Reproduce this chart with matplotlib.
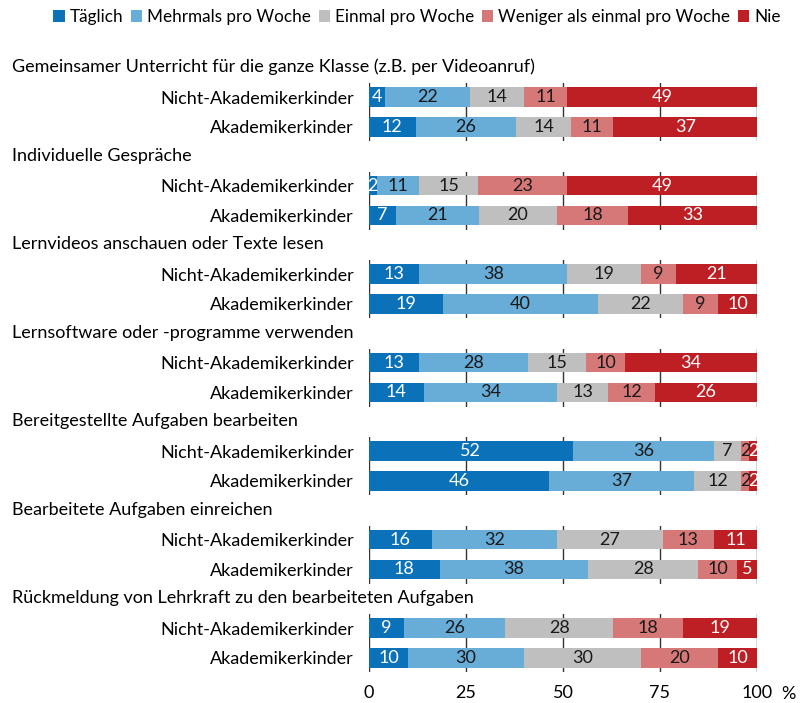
import matplotlib

matplotlib.use("Agg")
import matplotlib.pyplot as plt
import numpy as np

plt.rcParams["font.family"] = ["Lato", "DejaVu Sans"]
plt.rcParams["font.size"] = 13

categories = ["Täglich", "Mehrmals pro Woche", "Einmal pro Woche",
              "Weniger als einmal pro Woche", "Nie"]
colors = ["#0b72b9", "#68acd8", "#bfbfbf", "#d77878", "#be1f24"]
text_colors = ["white", "#1a1a1a", "#1a1a1a", "#1a1a1a", "white"]
rows = ["Nicht-Akademikerkinder", "Akademikerkinder"]

groups = [
    "Gemeinsamer Unterricht für die ganze Klasse (z.B. per Videoanruf)",
    "Individuelle Gespräche",
    "Lernvideos anschauen oder Texte lesen",
    "Lernsoftware oder -programme verwenden",
    "Bereitgestellte Aufgaben bearbeiten",
    "Bearbeitete Aufgaben einreichen",
    "Rückmeldung von Lehrkraft zu den bearbeiteten Aufgaben",
]

# values per group: [Nicht-Akademikerkinder, Akademikerkinder]
unterricht = [[4, 22, 14, 11, 49], [12, 26, 14, 11, 37]]
gespraeche = [[2, 11, 15, 23, 49], [7, 21, 20, 18, 33]]
lernvideos = [[13, 38, 19, 9, 21], [19, 40, 22, 9, 10]]
lernsoftware = [[13, 28, 15, 10, 34], [14, 34, 13, 12, 26]]
bearbeiten = [[52, 36, 7, 2, 2], [46, 37, 12, 2, 2]]
einreichen = [[16, 32, 27, 13, 11], [18, 38, 28, 10, 5]]
rueckmeldung = [[9, 26, 28, 18, 19], [10, 30, 30, 20, 10]]
data = [unterricht, gespraeche, lernvideos, lernsoftware, bearbeiten,
        einreichen, rueckmeldung]

W, H = 809, 703
fig = plt.figure(figsize=(W / 100, H / 100), dpi=100)

x0, x1 = 369, 757
first_top, step, ax_h = 83, 88.5, 58

axes = []
for gi, (title, vals) in enumerate(zip(groups, data)):
    top = first_top + gi * step
    ax = fig.add_axes([x0 / W, 1 - (top + ax_h) / H, (x1 - x0) / W, ax_h / H])
    axes.append(ax)
    vals = np.array(vals, dtype=float)
    widths = vals / vals.sum(axis=1, keepdims=True) * 100
    left = np.zeros(len(rows))
    for ci in range(len(categories)):
        ax.barh(range(len(rows)), widths[:, ci], left=left, height=0.66,
                color=colors[ci], zorder=2, label=categories[ci] if gi == 0 else None)
        for ri in range(len(rows)):
            ax.text(left[ri] + widths[ri, ci] / 2, ri, f"{vals[ri, ci]:.0f}",
                    ha="center", va="center", color=text_colors[ci],
                    fontsize=13, zorder=3)
        left += widths[:, ci]
    ax.set_xlim(0, 100)
    ax.set_ylim(1.47, -0.47)
    ax.set_xticks([0, 25, 50, 75, 100])
    ax.grid(axis="x", color="#333333", lw=1, zorder=0)
    ax.set_yticks(range(len(rows)))
    ax.set_yticklabels(rows)
    ax.tick_params(axis="y", length=0, pad=11, labelsize=13)
    ax.tick_params(axis="x", length=0, pad=9, labelsize=13)
    if gi < len(groups) - 1:
        ax.set_xticklabels([])
    for s in ax.spines.values():
        s.set_visible(False)
    fig.text(12 / W, 1 - (top - 16) / H, title, ha="left", va="center", fontsize=13)

fig.text(788 / W, 1 - 694 / H, "%", ha="center", va="center", fontsize=13)

handles, labels = axes[0].get_legend_handles_labels()
fig.legend(handles, labels, loc="center", bbox_to_anchor=(417 / W, 1 - 17 / H),
           ncol=5, frameon=False, handlelength=0.65, handleheight=0.65,
           handletextpad=0.3, columnspacing=0.45, fontsize=12.3, borderaxespad=0)

fig.savefig("out.png", dpi=100)
